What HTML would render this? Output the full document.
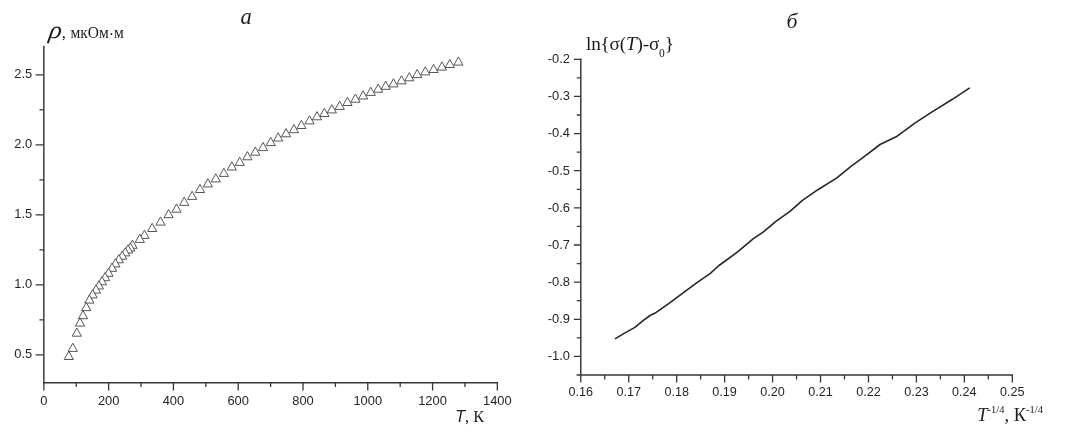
<!DOCTYPE html>
<html lang="ru"><head><meta charset="utf-8"><title>Графики</title>
<style>html,body{margin:0;padding:0;background:#fff}body{width:1068px;height:435px;overflow:hidden}svg{display:block;will-change:transform}.t{font-family:"Liberation Sans",sans-serif;font-size:12.9px;fill:#262626}.t2{font-size:12.6px}.s{font-family:"Liberation Serif",serif;fill:#1c1c1c}.ax{stroke:#363636;stroke-width:1.45;fill:none;stroke-linecap:butt}.tk{stroke:#363636;stroke-width:1.3;fill:none}.mk{stroke:#444;stroke-width:0.9;fill:#fff;stroke-linejoin:miter}</style></head><body>
<svg width="1068" height="435" viewBox="0 0 1068 435">
<path class="ax" d="M43.85 45.80V383.55M43.00 382.70H498.15"/>
<path class="tk" d="M43.85 382.70v7.9M108.64 382.70v7.9M173.42 382.70v7.9M238.21 382.70v7.9M302.99 382.70v7.9M367.78 382.70v7.9M432.56 382.70v7.9M497.35 382.70v7.9M76.24 382.70v4.4M141.03 382.70v4.4M205.81 382.70v4.4M270.60 382.70v4.4M335.39 382.70v4.4M400.17 382.70v4.4M464.96 382.70v4.4M43.85 354.80h-8.2M43.85 284.80h-8.2M43.85 214.80h-8.2M43.85 144.80h-8.2M43.85 74.80h-8.2M43.85 319.80h-4.4M43.85 249.80h-4.4M43.85 179.80h-4.4M43.85 109.80h-4.4"/>
<text class="t" x="43.85" y="404.8" text-anchor="middle">0</text>
<text class="t" x="108.64" y="404.8" text-anchor="middle">200</text>
<text class="t" x="173.42" y="404.8" text-anchor="middle">400</text>
<text class="t" x="238.21" y="404.8" text-anchor="middle">600</text>
<text class="t" x="302.99" y="404.8" text-anchor="middle">800</text>
<text class="t" x="367.78" y="404.8" text-anchor="middle">1000</text>
<text class="t" x="432.56" y="404.8" text-anchor="middle">1200</text>
<text class="t" x="497.35" y="404.8" text-anchor="middle">1400</text>
<text class="t" x="32.2" y="358.30" text-anchor="end">0.5</text>
<text class="t" x="32.2" y="288.30" text-anchor="end">1.0</text>
<text class="t" x="32.2" y="218.30" text-anchor="end">1.5</text>
<text class="t" x="32.2" y="148.30" text-anchor="end">2.0</text>
<text class="t" x="32.2" y="78.30" text-anchor="end">2.5</text>
<g class="mk">
<path d="M458.4 56.9L463.0 65.1H453.8Z"/>
<path d="M449.8 59.3L454.4 67.5H445.2Z"/>
<path d="M441.9 61.9L446.5 70.1H437.3Z"/>
<path d="M433.6 64.3L438.2 72.5H429.0Z"/>
<path d="M425.3 66.7L429.9 74.9H420.7Z"/>
<path d="M417.2 69.4L421.8 77.6H412.6Z"/>
<path d="M409.3 72.6L413.9 80.8H404.7Z"/>
<path d="M401.5 75.7L406.1 83.9H396.9Z"/>
<path d="M393.5 78.7L398.1 86.9H388.9Z"/>
<path d="M385.7 81.1L390.3 89.3H381.1Z"/>
<path d="M378.2 84.0L382.8 92.2H373.6Z"/>
<path d="M370.8 87.2L375.4 95.4H366.2Z"/>
<path d="M363.1 90.8L367.7 99.0H358.5Z"/>
<path d="M355.4 94.0L360.0 102.2H350.8Z"/>
<path d="M347.5 97.3L352.1 105.5H342.9Z"/>
<path d="M339.7 101.2L344.3 109.4H335.1Z"/>
<path d="M331.8 104.7L336.4 112.9H327.2Z"/>
<path d="M324.4 108.3L329.0 116.5H319.8Z"/>
<path d="M317.0 111.6L321.6 119.8H312.4Z"/>
<path d="M309.5 115.7L314.1 123.9H304.9Z"/>
<path d="M301.4 120.3L306.0 128.5H296.8Z"/>
<path d="M293.9 124.5L298.5 132.7H289.3Z"/>
<path d="M286.1 128.6L290.7 136.8H281.5Z"/>
<path d="M278.2 132.8L282.8 141.0H273.6Z"/>
<path d="M270.7 137.4L275.3 145.6H266.1Z"/>
<path d="M263.0 142.4L267.6 150.6H258.4Z"/>
<path d="M255.3 147.0L259.9 155.2H250.7Z"/>
<path d="M247.4 151.6L252.0 159.8H242.8Z"/>
<path d="M239.7 157.2L244.3 165.4H235.1Z"/>
<path d="M231.8 161.8L236.4 170.0H227.2Z"/>
<path d="M223.9 168.2L228.5 176.4H219.3Z"/>
<path d="M215.8 173.7L220.4 181.9H211.2Z"/>
<path d="M207.9 178.7L212.5 186.9H203.3Z"/>
<path d="M200.0 184.3L204.6 192.5H195.4Z"/>
<path d="M192.1 191.2L196.7 199.4H187.5Z"/>
<path d="M184.2 197.2L188.8 205.4H179.6Z"/>
<path d="M176.5 204.0L181.1 212.2H171.9Z"/>
<path d="M168.6 209.5L173.2 217.7H164.0Z"/>
<path d="M160.5 216.9L165.1 225.1H155.9Z"/>
<path d="M152.2 223.3L156.8 231.5H147.6Z"/>
<path d="M144.5 230.2L149.1 238.4H139.9Z"/>
<path d="M139.8 234.2L144.4 242.4H135.2Z"/>
<path d="M132.5 240.1L137.1 248.3H127.9Z"/>
<path d="M130.3 242.8L134.9 251.0H125.7Z"/>
<path d="M128.0 244.8L132.6 253.0H123.4Z"/>
<path d="M125.3 247.7L129.9 255.9H120.7Z"/>
<path d="M122.2 251.0L126.8 259.2H117.6Z"/>
<path d="M118.8 254.6L123.4 262.8H114.2Z"/>
<path d="M115.4 258.7L120.0 266.9H110.8Z"/>
<path d="M112.0 263.1L116.6 271.3H107.4Z"/>
<path d="M108.5 268.1L113.1 276.3H103.9Z"/>
<path d="M105.1 272.5L109.7 280.7H100.5Z"/>
<path d="M102.0 276.6L106.6 284.8H97.4Z"/>
<path d="M98.9 280.8L103.5 289.0H94.3Z"/>
<path d="M96.0 284.9L100.6 293.1H91.4Z"/>
<path d="M92.6 289.7L97.2 297.9H88.0Z"/>
<path d="M89.4 294.9L94.0 303.1H84.8Z"/>
<path d="M86.2 302.4L90.8 310.6H81.6Z"/>
<path d="M83.0 310.5L87.6 318.7H78.4Z"/>
<path d="M80.0 317.9L84.6 326.1H75.4Z"/>
<path d="M76.8 328.0L81.4 336.2H72.2Z"/>
<path d="M72.8 343.2L77.4 351.4H68.2Z"/>
<path d="M68.8 351.3L73.4 359.5H64.2Z"/>
</g>
<text class="s" x="240.6" y="24" font-size="22.5" font-style="italic">а</text>
<text class="s" transform="translate(48.3 37.6) skewX(-9) scale(1.07 1)" font-size="24.5" font-style="italic">ρ</text>
<text class="s" x="61.8" y="37.6" font-size="16.6">,</text>
<text class="s" x="70.4" y="37.6" font-size="16.6" textLength="53.3" lengthAdjust="spacingAndGlyphs">мкОм<tspan dy="2.6">·</tspan><tspan dy="-2.6">м</tspan></text>
<text x="455.2" y="421.7"><tspan font-family="Liberation Sans,sans-serif" font-style="italic" font-size="16.2" fill="#1c1c1c">T</tspan><tspan class="s" font-size="16.3">, К</tspan></text>
<path class="ax" d="M580.80 58.50V375.84M576.60 374.99H1013.10"/>
<path class="tk" d="M580.80 374.99v7.4M628.74 374.99v7.4M676.69 374.99v7.4M724.63 374.99v7.4M772.58 374.99v7.4M820.52 374.99v7.4M868.47 374.99v7.4M916.41 374.99v7.4M964.36 374.99v7.4M1012.30 374.99v7.4M604.77 374.99v4.4M652.72 374.99v4.4M700.66 374.99v4.4M748.61 374.99v4.4M796.55 374.99v4.4M844.49 374.99v4.4M892.44 374.99v4.4M940.38 374.99v4.4M988.33 374.99v4.4M580.80 59.30h-6.9M580.80 96.44h-6.9M580.80 133.58h-6.9M580.80 170.72h-6.9M580.80 207.86h-6.9M580.80 245.00h-6.9M580.80 282.14h-6.9M580.80 319.28h-6.9M580.80 356.42h-6.9M580.80 77.87h-4.0M580.80 115.01h-4.0M580.80 152.15h-4.0M580.80 189.29h-4.0M580.80 226.43h-4.0M580.80 263.57h-4.0M580.80 300.71h-4.0M580.80 337.85h-4.0"/>
<text class="t t2" x="580.80" y="395.9" text-anchor="middle">0.16</text>
<text class="t t2" x="628.74" y="395.9" text-anchor="middle">0.17</text>
<text class="t t2" x="676.69" y="395.9" text-anchor="middle">0.18</text>
<text class="t t2" x="724.63" y="395.9" text-anchor="middle">0.19</text>
<text class="t t2" x="772.58" y="395.9" text-anchor="middle">0.20</text>
<text class="t t2" x="820.52" y="395.9" text-anchor="middle">0.21</text>
<text class="t t2" x="868.47" y="395.9" text-anchor="middle">0.22</text>
<text class="t t2" x="916.41" y="395.9" text-anchor="middle">0.23</text>
<text class="t t2" x="964.36" y="395.9" text-anchor="middle">0.24</text>
<text class="t t2" x="1012.30" y="395.9" text-anchor="middle">0.25</text>
<text class="t" x="570.0" y="63.10" text-anchor="end">-0.2</text>
<text class="t" x="570.0" y="100.24" text-anchor="end">-0.3</text>
<text class="t" x="570.0" y="137.38" text-anchor="end">-0.4</text>
<text class="t" x="570.0" y="174.52" text-anchor="end">-0.5</text>
<text class="t" x="570.0" y="211.66" text-anchor="end">-0.6</text>
<text class="t" x="570.0" y="248.80" text-anchor="end">-0.7</text>
<text class="t" x="570.0" y="285.94" text-anchor="end">-0.8</text>
<text class="t" x="570.0" y="323.08" text-anchor="end">-0.9</text>
<text class="t" x="570.0" y="360.22" text-anchor="end">-1.0</text>
<polyline fill="none" stroke="#262626" stroke-width="1.6" stroke-linejoin="round" points="615.0,338.9 624.1,333.4 634.5,327.6 643.1,320.7 650.0,315.5 655.2,313.1 669.0,303.4 682.8,293.1 696.6,282.8 710.3,273.4 719.0,265.5 737.9,251.7 753.4,238.6 763.8,231.7 775.9,221.4 790.3,211.2 802.4,200.3 817.9,189.7 836.9,177.9 850.7,166.6 866.2,155.2 880.0,144.5 897.2,136.2 914.5,123.4 931.7,112.1 952.4,99.3 969.7,87.9"/>
<text class="s" x="786.6" y="27.9" font-size="20.5" font-style="italic" textLength="11" lengthAdjust="spacingAndGlyphs">б</text>
<text class="s" x="586" y="49.5" font-size="19.2" letter-spacing="-0.18">ln{σ(<tspan font-style="italic">T</tspan>)-σ<tspan font-size="11.5" dy="7">0</tspan><tspan dy="-7">}</tspan></text>
<text class="s" x="977.3" y="420.7" font-size="18.5"><tspan font-style="italic">T</tspan><tspan font-size="10.5" dy="-8">-1/4</tspan><tspan dy="8">, К</tspan><tspan font-size="10.5" dy="-8">-1/4</tspan></text>
</svg></body></html>
